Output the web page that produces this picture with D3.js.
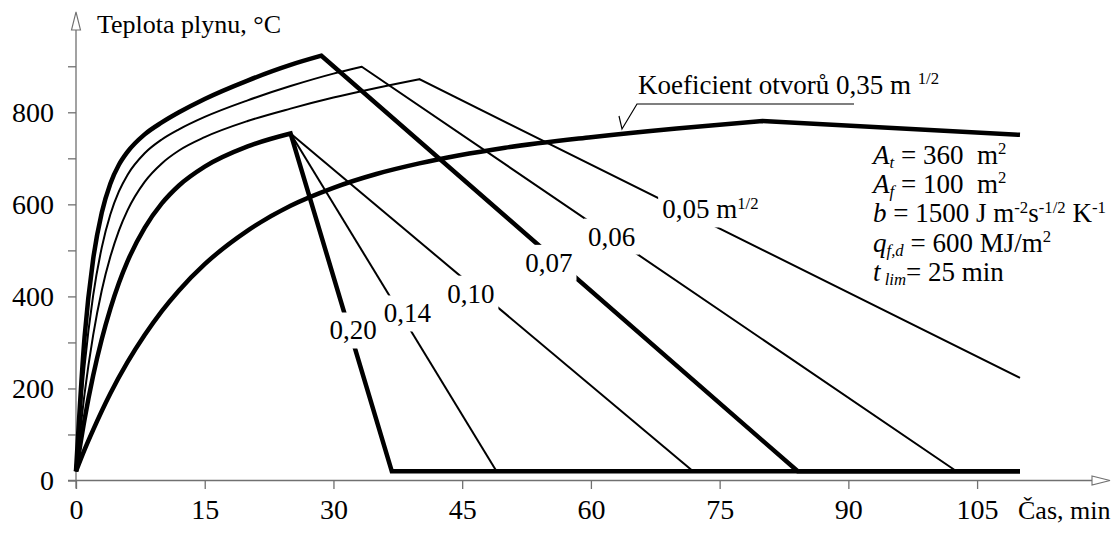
<!DOCTYPE html>
<html>
<head>
<meta charset="utf-8">
<script src="https://cdn.jsdelivr.net/npm/d3@7"></script>
</head>
<body style="margin:0">
<div class="d3-content"></div>
<script>
const SVG_WIDTH = 1120;
const SVG_HEIGHT = 538;
const FONT = '"Liberation Serif"';

// gas temperature curves, time in min, temperature in degC
const time07 = [0, 1, 2, 3, 4, 5, 6, 8, 10, 12, 15, 20, 25, 28.6, 84.1, 110];
const temp07 = [20, 312, 481, 582, 645, 686, 714, 752, 778, 800, 829, 869, 903, 923, 20, 20];

const time06 = [0, 1, 2, 3, 4, 5, 6, 8, 10, 12, 15, 20, 25, 30, 33.3, 102.6];
const temp06 = [20, 249, 402, 506, 578, 628, 664, 711, 741, 763, 790, 826, 857, 884, 899, 20];

const time05 = [0, 1, 2, 3, 4, 5, 6, 8, 10, 12, 15, 20, 25, 30, 35, 40, 110];
const temp05 = [20, 189, 316, 413, 486, 543, 587, 649, 689, 717, 746, 781, 808, 832, 853, 872, 223];

const time20 = [0, 1, 2, 3, 4, 5, 6, 8, 10, 12, 15, 20, 25, 36.8, 110];
const temp20 = [20, 133, 228, 307, 373, 429, 476, 549, 602, 641, 682, 726, 754, 20, 20];

const time14 = [25, 49.0];
const temp14 = [754, 20];

const time10 = [25, 71.9];
const temp10 = [754, 20];

const time35 = [0, 1, 2, 4, 6, 8, 10, 12, 15, 20, 25, 30, 35, 40, 50, 60, 70, 80, 110];
const temp35 = [20, 67, 110, 189, 257, 316, 368, 413, 470, 543, 597, 636, 666, 689, 723, 746, 765, 781, 751];

const xTicks = [0, 15, 30, 45, 60, 75, 90, 105];
const yTicks = [0, 100, 200, 300, 400, 500, 600, 700, 800, 900];
const yLabels = [0, 200, 400, 600, 800];

const curveLabels = ['0,20', '0,14', '0,10', '0,07', '0,06', '0,05 m'];
// label centres (min, degC)
const labelTime = [32.3, 38.6, 46.0, 55.1, 62.4, 68.3];
const labelTemp = [327, 364, 407, 474, 531, 590];

const THICK = 4.5;
const THIN = 2;
const AXIS_COLOR = '#707070';

const svg = d3.select('.d3-content')
  .append('svg')
  .attr('width', SVG_WIDTH)
  .attr('height', SVG_HEIGHT);

const xscale = d3.scaleLinear()
  .domain([0, 110])
  .range([76, 1020]);

const yscale = d3.scaleLinear()
  .domain([0, 800])
  .range([480.5, 112.3]);

// plain text helper, serif like the source figure
function label(parent, x, y, s, size) {
  return parent.append('text')
    .attr('x', x).attr('y', y)
    .style('font-family', FONT)
    .style('font-size', size + 'px')
    .text(s);
}

// x axis
const xAxis = svg.append('g')
  .attr('transform', `translate(0, ${yscale(0)})`)
  .call(d3.axisBottom(xscale).tickValues(xTicks).tickSize(8.5).tickPadding(10.5).tickSizeOuter(0));
xAxis.select('.domain').remove();
xAxis.selectAll('line').attr('stroke', AXIS_COLOR).attr('stroke-width', 1.3);
xAxis.selectAll('text')
  .style('font-family', FONT)
  .style('font-size', '28px');

// y axis
const yAxis = svg.append('g')
  .attr('transform', `translate(${xscale(0)}, 0)`)
  .call(d3.axisLeft(yscale).tickValues(yTicks).tickSize(8).tickPadding(14).tickSizeOuter(0)
    .tickFormat(d => yLabels.includes(d) ? d : ''));
yAxis.select('.domain').remove();
yAxis.selectAll('line').attr('stroke', AXIS_COLOR).attr('stroke-width', 1.3);
yAxis.selectAll('text')
  .style('font-family', FONT)
  .style('font-size', '28px');

// axis lines with open arrows
svg.append('line')
  .attr('x1', xscale(0) - 8).attr('x2', 1092)
  .attr('y1', yscale(0)).attr('y2', yscale(0))
  .attr('stroke', AXIS_COLOR).attr('stroke-width', 1.3);
svg.append('path')
  .attr('d', `M1092,${yscale(0) - 4.5}L1110,${yscale(0)}L1092,${yscale(0) + 4.5}Z`)
  .attr('fill', '#fff').attr('stroke', AXIS_COLOR).attr('stroke-width', 1.1);

svg.append('line')
  .attr('x1', xscale(0)).attr('x2', xscale(0))
  .attr('y1', yscale(0) + 8).attr('y2', 30)
  .attr('stroke', AXIS_COLOR).attr('stroke-width', 1.3);
svg.append('path')
  .attr('d', `M${xscale(0) - 4.5},30L${xscale(0)},12L${xscale(0) + 4.5},30Z`)
  .attr('fill', '#fff').attr('stroke', AXIS_COLOR).attr('stroke-width', 1.1);

// axis titles
label(svg, 97, 33, 'Teplota plynu, °C', 26);
label(svg, 1018, 519, 'Čas, min', 26);

// curves: smooth heating branch, straight cooling branch
const smooth = d3.line()
  .x(d => xscale(d[0]))
  .y(d => yscale(d[1]))
  .curve(d3.curveMonotoneX);
const straight = d3.line()
  .x(d => xscale(d[0]))
  .y(d => yscale(d[1]));

function curvePath(times, temps) {
  const pts = times.map((t, i) => [t, temps[i]]);
  const peak = d3.maxIndex(temps);
  if (peak < 1) return straight(pts);
  const heat = smooth(pts.slice(0, peak + 1));
  const cool = straight(pts.slice(peak));
  return heat + cool.replace(/^M/, 'L');
}

const series = [
  { time: time06, temp: temp06, width: THIN },
  { time: time05, temp: temp05, width: THIN },
  { time: time14, temp: temp14, width: THIN },
  { time: time10, temp: temp10, width: THIN },
  { time: time07, temp: temp07, width: THICK },
  { time: time20, temp: temp20, width: THICK },
  { time: time35, temp: temp35, width: THICK },
];

const plot = svg.append('g');
plot.selectAll('path')
  .data(series)
  .join('path')
  .attr('d', d => curvePath(d.time, d.temp))
  .attr('fill', 'none')
  .attr('stroke', '#000')
  .attr('stroke-width', d => d.width)
  .attr('stroke-linejoin', 'miter')
  .attr('stroke-miterlimit', 6);

// text with sub/superscripts
function richText(parent, x, y, parts, size, anchor) {
  const t = label(parent, x, y, null, size)
    .attr('text-anchor', anchor || 'start');
  let shift = 0;
  parts.forEach(p => {
    const target = p.sup ? -size * 0.36 : p.sub ? size * 0.15 : 0;
    t.append('tspan')
      .attr('dy', target - shift)
      .style('font-size', (p.sup || p.sub ? size * 0.62 : size) + 'px')
      .style('font-style', p.i ? 'italic' : null)
      .text(p.s);
    shift = target;
  });
  return t;
}

// curve labels on white patches that break the lines
const labelLayer = svg.append('g');
curveLabels.forEach((s, i) => {
  const g = labelLayer.append('g');
  const parts = i === 5 ? [{ s: s }, { s: '1/2', sup: true }] : [{ s: s }];
  const t = richText(g, xscale(labelTime[i]), yscale(labelTemp[i]) + 9.5, parts, 27, i === 5 ? 'start' : 'middle');
  const bb = t.node().getBBox();
  g.insert('rect', 'text')
    .attr('x', bb.x - 4).attr('y', bb.y - 3)
    .attr('width', bb.width + 8).attr('height', bb.height + 6)
    .attr('fill', '#fff');
});

// opening factor callout
richText(svg, 638, 94, [{ s: 'Koeficient otvorů 0,35 m ' }, { s: '1/2', sup: true }], 27);
svg.append('path')
  .attr('d', 'M619,116L622,129L637,104L854,104')
  .attr('fill', 'none')
  .attr('stroke', '#000')
  .attr('stroke-width', 1.2);

// input parameters
const params = [
  [{ s: 'A', i: true }, { s: 't', sub: true, i: true }, { s: ' = 360\u00a0 m' }, { s: '2', sup: true }],
  [{ s: 'A', i: true }, { s: 'f', sub: true, i: true }, { s: ' = 100\u00a0 m' }, { s: '2', sup: true }],
  [{ s: 'b', i: true }, { s: ' = 1500 J m' }, { s: '-2', sup: true }, { s: 's' }, { s: '-1/2', sup: true }, { s: ' K' }, { s: '-1', sup: true }],
  [{ s: 'q', i: true }, { s: 'f,d', sub: true, i: true }, { s: ' = 600 MJ/m' }, { s: '2', sup: true }],
  [{ s: 't', i: true }, { s: ' lim', sub: true, i: true }, { s: '= 25 min' }],
];
params.forEach((p, i) => richText(svg, 873, 164 + i * 29.2, p, 27));
</script>
</body>
</html>
